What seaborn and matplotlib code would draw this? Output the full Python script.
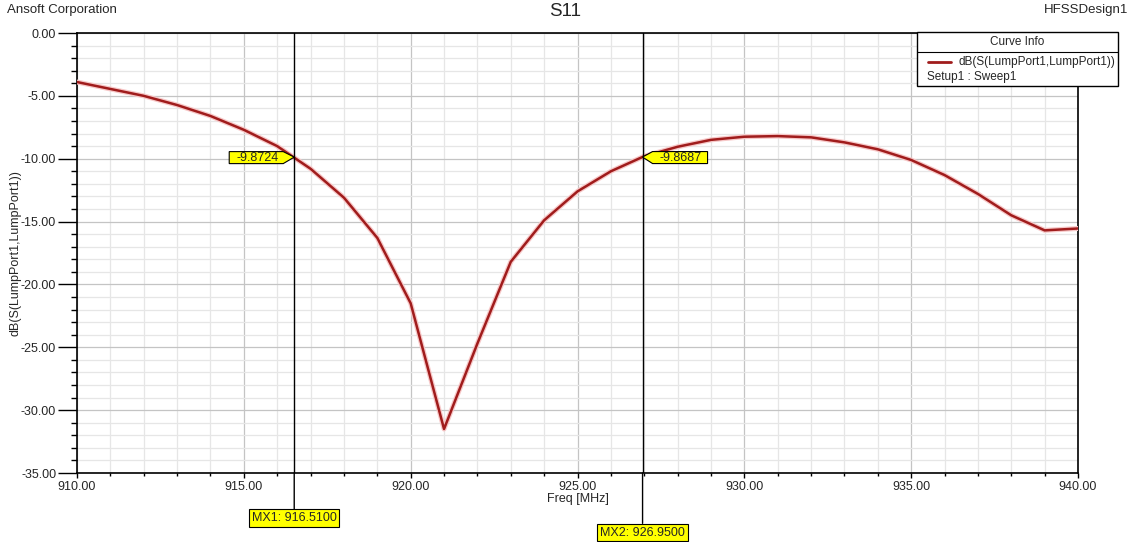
import numpy as np
import pandas as pd
import matplotlib
matplotlib.use('Agg')
import matplotlib.pyplot as plt
import matplotlib.patheffects as pe
import matplotlib.transforms as mtransforms
from matplotlib.patches import Polygon, Rectangle
from matplotlib.lines import Line2D
from matplotlib.ticker import MultipleLocator, FormatStrFormatter
import seaborn as sns

# sweep data (1 MHz steps)
freq_mhz = [910, 911, 912, 913, 914, 915, 916, 917, 918, 919, 920,
            921, 922, 923, 924, 925, 926, 927, 928, 929, 930,
            931, 932, 933, 934, 935, 936, 937, 938, 939, 940]
s11_db = [-3.9, -4.45, -5.0, -5.73, -6.6, -7.7, -9.0, -10.8, -13.1, -16.3, -21.5,
          -31.5, -24.7, -18.2, -14.9, -12.6, -11.0, -9.8, -9.05, -8.5, -8.25,
          -8.2, -8.3, -8.7, -9.25, -10.1, -11.3, -12.8, -14.5, -15.7, -15.55]

marker_names = ["MX1", "MX2"]
marker_freq = [916.51, 926.95]
marker_db = [-9.8724, -9.8687]

curve_name = "dB(S(LumpPort1,LumpPort1))"
df = pd.DataFrame({"Freq [MHz]": freq_mhz, curve_name: s11_db})

sns.set_theme(style="white")
plt.rcParams['font.family'] = ['Liberation Sans', 'DejaVu Sans']

fig = plt.figure(figsize=(11.35, 5.42), dpi=100)
ax = fig.add_axes([77 / 1135, 1 - 473 / 542, 1001 / 1135, 440 / 542])

red = "#a01c1c"
sns.lineplot(data=df, x="Freq [MHz]", y=curve_name, ax=ax, color=red, linewidth=1.8,
             path_effects=[pe.Stroke(linewidth=3.6, foreground="#f7c8c8"), pe.Normal()],
             zorder=3)

ax.set_xlim(910, 940)
ax.set_ylim(-35, 0)
ax.xaxis.set_major_locator(MultipleLocator(5))
ax.xaxis.set_minor_locator(MultipleLocator(1))
ax.yaxis.set_major_locator(MultipleLocator(5))
ax.yaxis.set_minor_locator(MultipleLocator(1))
ax.xaxis.set_major_formatter(FormatStrFormatter("%.2f"))
ax.yaxis.set_major_formatter(FormatStrFormatter("%.2f"))

ax.grid(which='major', color='#c4c4c4', linewidth=0.9)
ax.grid(which='minor', color='#e6e6e6', linewidth=0.9)
ax.set_axisbelow(True)

for sp in ax.spines.values():
    sp.set_color("black")
    sp.set_linewidth(1.2)

ax.tick_params(axis='y', which='major', direction='out', length=14, width=1, color='black',
               pad=1, labelsize=9, left=True)
ax.tick_params(axis='y', which='minor', direction='out', length=4.5, width=1, color='black', left=True)
ax.tick_params(axis='x', which='major', direction='out', length=3.5, width=1, color='black',
               pad=2, labelsize=9, bottom=True)
ax.tick_params(axis='x', which='minor', direction='out', length=2, width=1, color='black', bottom=True)

ax.set_xlabel("Freq [MHz]", fontsize=9, labelpad=0)
ax.set_ylabel(curve_name, fontsize=9, labelpad=-0.5)

# markers: vertical line, value flag on the curve, name box below the axis
flag_shapes = [
    ([(0, 0), (-11, 5.5), (-65, 5.5), (-65, -6.5), (-11, -6.5)], -37),
    ([(0, 0), (10, 5.5), (65, 5.5), (65, -6.5), (10, -6.5)], 38),
]
box_drop = [45, 59.5]
for i in range(len(marker_freq)):
    xf, yv = marker_freq[i], marker_db[i]
    ax.axvline(xf, color="black", linewidth=1, zorder=4)
    verts, tx = flag_shapes[i]
    tr = mtransforms.ScaledTranslation(xf, yv, ax.transData)
    ax.add_patch(Polygon(verts, closed=True, facecolor="#ffff00", edgecolor="black",
                         linewidth=0.8, transform=tr, zorder=6, clip_on=False))
    ax.annotate(f"{yv:.4f}", xy=(xf, yv), xytext=(tx, -0.5), textcoords='offset pixels',
                ha='center', va='center', fontsize=9, zorder=7)
    ax.annotate(f"{marker_names[i]}: {xf:.4f}", xy=(xf, 0), xycoords=('data', 'axes fraction'),
                xytext=(0, -box_drop[i]), textcoords='offset pixels',
                ha='center', va='center', fontsize=9, annotation_clip=False,
                bbox=dict(boxstyle="square,pad=0.22", facecolor="#ffff00", edgecolor="black",
                          linewidth=0.8),
                arrowprops=dict(arrowstyle='-', color='black', linewidth=1,
                                shrinkA=0, shrinkB=0))

# header texts
fig.text(7 / 1135, 1 - 10 / 542, "Ansoft Corporation", fontsize=9.5, ha='left', va='center')
fig.text(565 / 1135, 1 - 12 / 542, "S11", fontsize=13.5, ha='center', va='center')
fig.text(1128 / 1135, 1 - 10 / 542, "HFSSDesign1", fontsize=9.5, ha='right', va='center')

# curve info box
fig.patches.append(Rectangle((917 / 1135, 1 - 86 / 542), 201 / 1135, 54 / 542,
                             transform=fig.transFigure, facecolor="white", edgecolor="black",
                             linewidth=1, zorder=10))
fig.lines.append(Line2D([917 / 1135, 1118 / 1135], [1 - 52 / 542, 1 - 52 / 542],
                        transform=fig.transFigure, color="black", linewidth=0.8, zorder=11))
fig.text(1017 / 1135, 1 - 42 / 542, "Curve Info", fontsize=8.5, ha='center', va='center', zorder=12)
fig.lines.append(Line2D([928 / 1135, 951 / 1135], [1 - 62 / 542, 1 - 62 / 542],
                        transform=fig.transFigure, color=red, linewidth=2, zorder=11))
fig.text(958 / 1135, 1 - 62 / 542, curve_name, fontsize=8.5, ha='left', va='center', zorder=12)
fig.text(927 / 1135, 1 - 77 / 542, "Setup1 : Sweep1", fontsize=8.5, ha='left', va='center', zorder=12)

plt.savefig("out.png", dpi=100)
plt.close()
